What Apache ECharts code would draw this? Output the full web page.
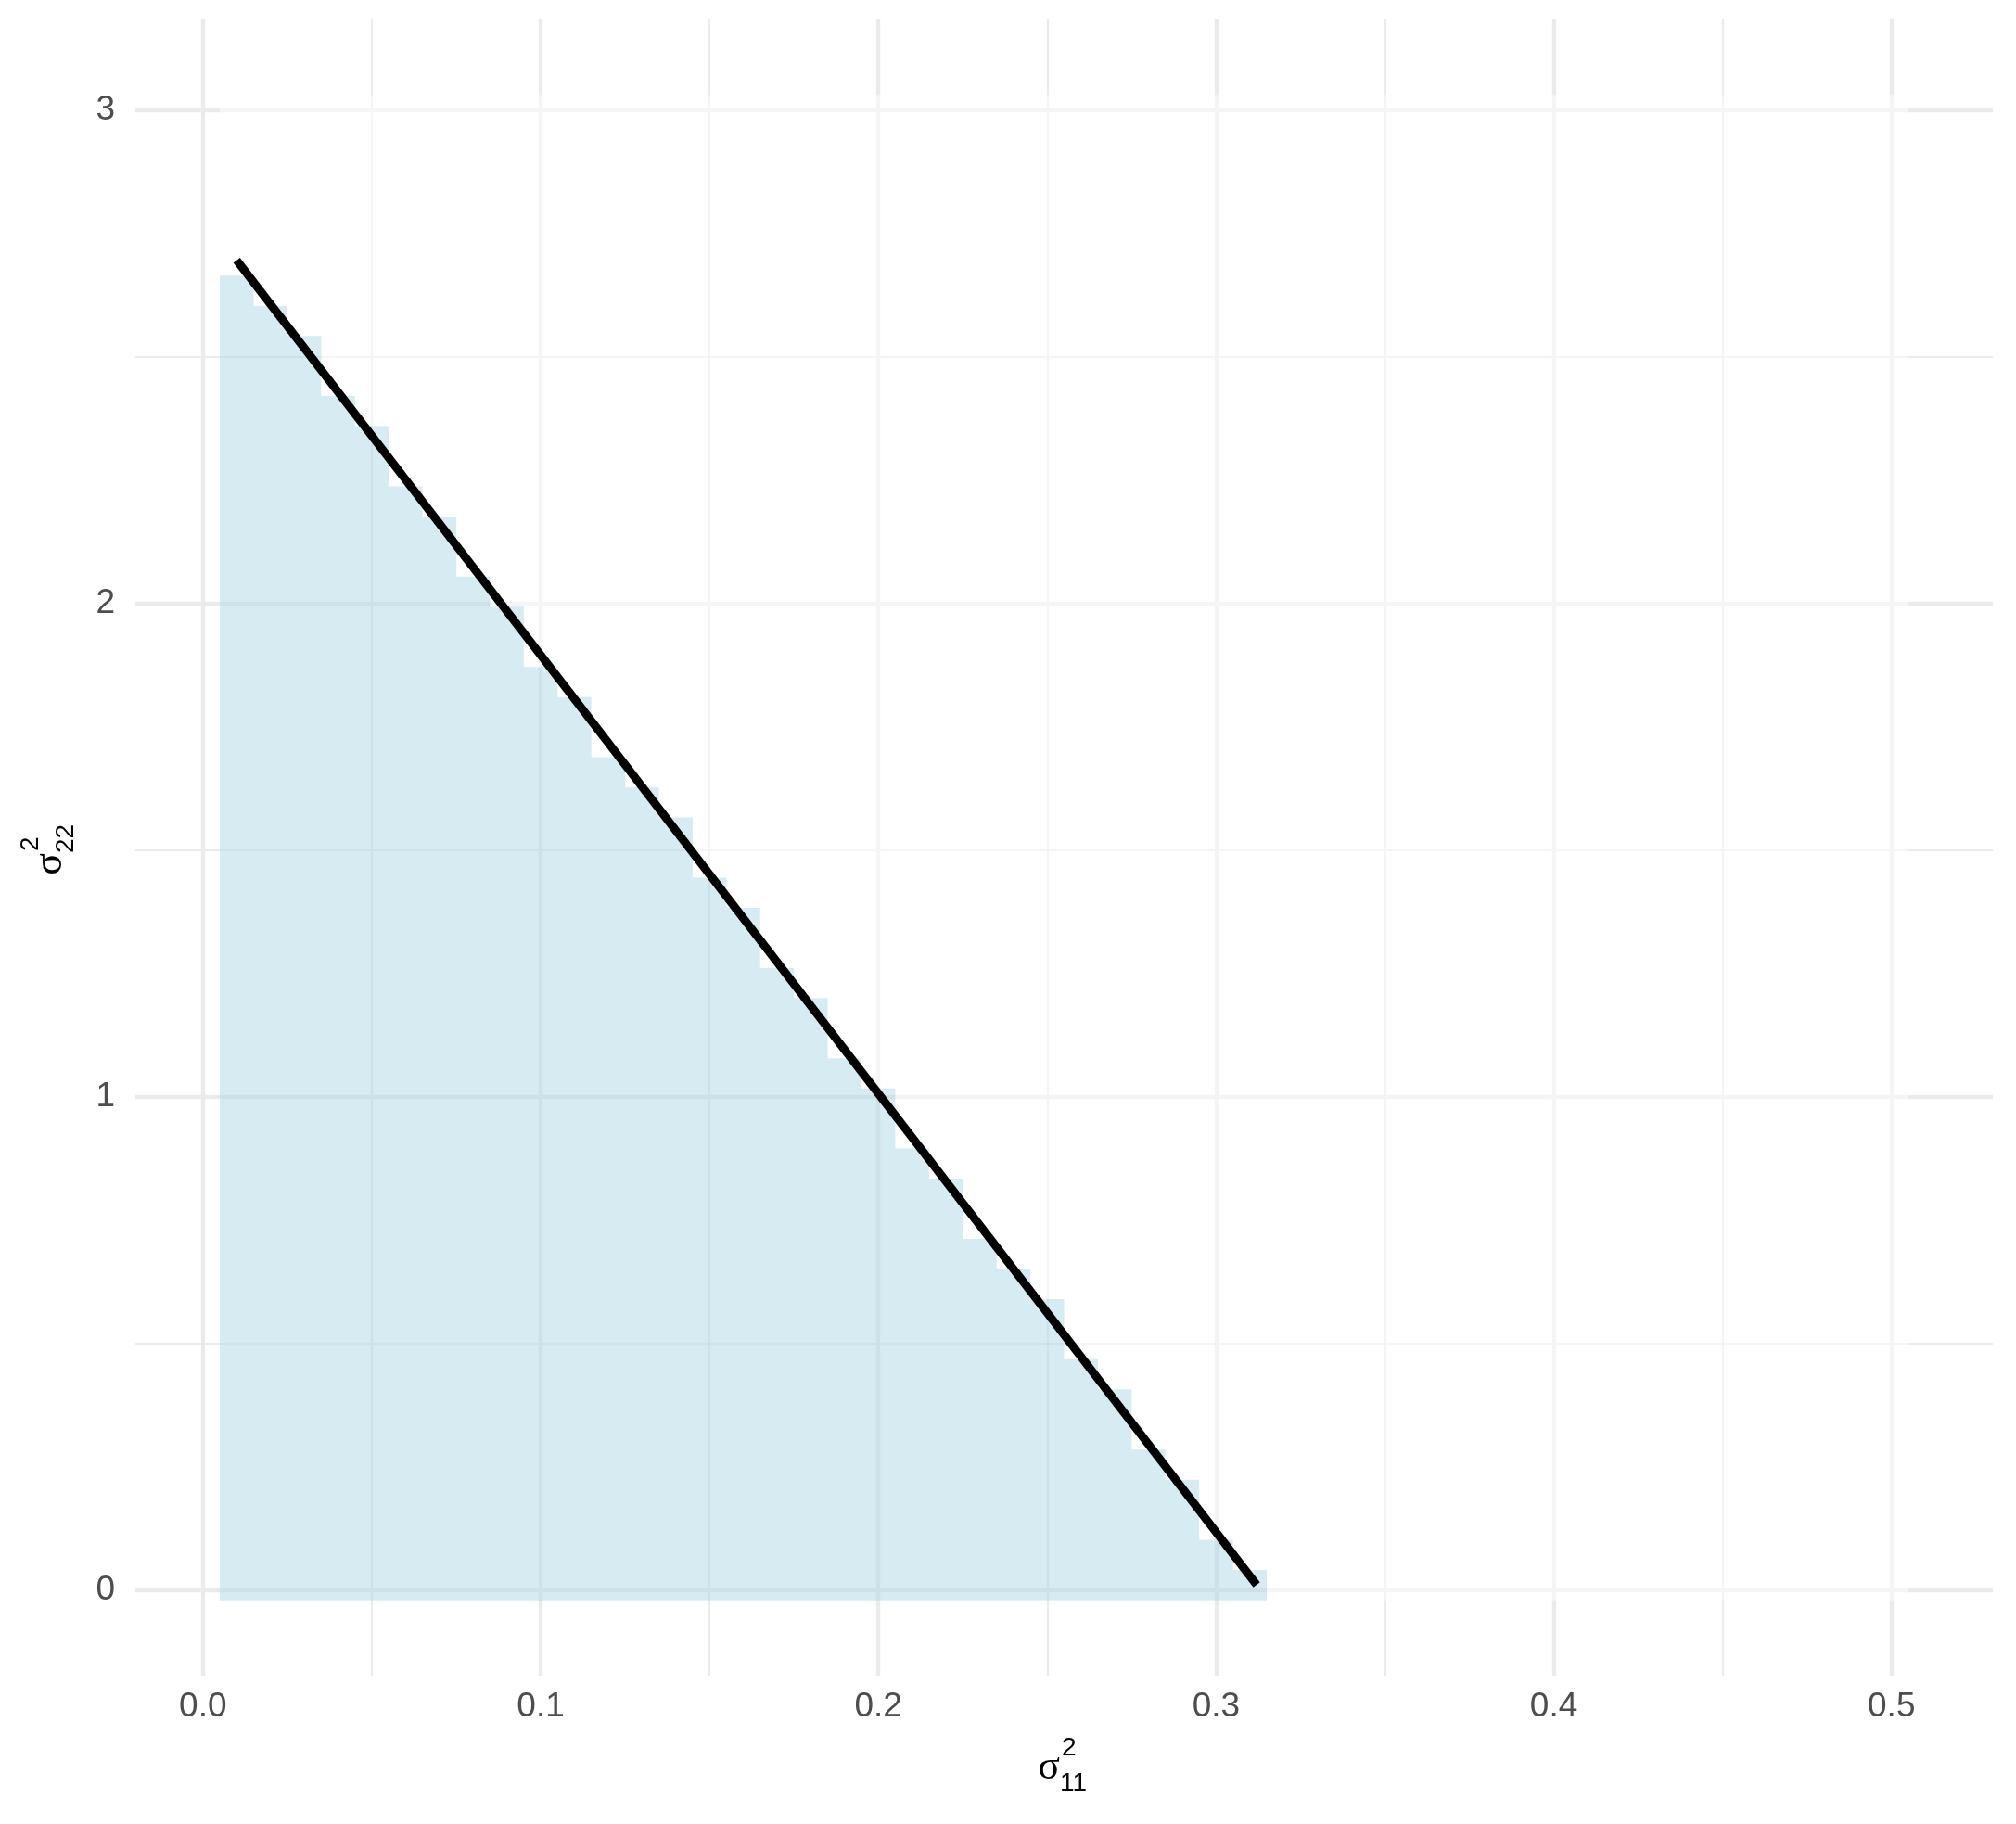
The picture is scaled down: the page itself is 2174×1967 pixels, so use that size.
<!DOCTYPE html>
<html>
<head>
<meta charset="utf-8">
<title>sigma11 vs sigma22</title>
<script src="https://cdn.jsdelivr.net/npm/echarts@6/dist/echarts.min.js"></script>
<style>
  html, body { margin: 0; padding: 0; background: #fff; }
  #chart { width: 2174px; height: 1967px; }
</style>
</head>
<body>
<div id="chart"></div>
<script>
// centre of each raster column (sigma11^2)
const colX = [0.01, 0.02, 0.03, 0.04, 0.05, 0.06, 0.07, 0.08, 0.09, 0.10,
              0.11, 0.12, 0.13, 0.14, 0.15, 0.16, 0.17, 0.18, 0.19, 0.20,
              0.21, 0.22, 0.23, 0.24, 0.25, 0.26, 0.27, 0.28, 0.29, 0.30, 0.31]
// upper edge of the filled part of each column (sigma22^2)
const colTop = [2.664, 2.603, 2.542, 2.420, 2.359, 2.237, 2.176, 2.054, 1.993, 1.871,
                1.810, 1.688, 1.627, 1.566, 1.444, 1.383, 1.261, 1.200, 1.078, 1.017,
                0.895, 0.834, 0.712, 0.651, 0.590, 0.468, 0.407, 0.285, 0.224, 0.102, 0.041]
// extent of the whole raster (tile half width, bottom, top, right edge)
const tileHalf = 0.005
const rasterBottom = -0.0205
const rasterTop = 3.0305
const rasterRight = 0.505

// boundary line
const lineX = [0.01, 0.312]
const lineY = [2.695, 0.011]

// ticks
const xTicks = [0, 0.1, 0.2, 0.3, 0.4, 0.5]
const xMinor = [0.05, 0.15, 0.25, 0.35, 0.45]
const yTicks = [0, 1, 2, 3]
const yMinor = [0.5, 1.5, 2.5]

const chart = echarts.init(document.getElementById('chart'), null, { renderer: 'canvas' })

function stairs() {
    const pts = []
    colX.forEach((x, i) => {
        pts.push([x - tileHalf, colTop[i]], [x + tileHalf, colTop[i]])
    })
    return pts
}

function renderRaster(params, api) {
    const s = stairs()
    const left = colX[0] - tileHalf
    const right = colX[colX.length - 1] + tileHalf
    const blue = [[left, rasterBottom]].concat(s, [[right, rasterBottom]])
    const white = [[left, rasterTop], [rasterRight, rasterTop], [rasterRight, rasterBottom], [right, rasterBottom]]
        .concat(s.slice().reverse())
    return {
        type: 'group',
        children: [
            {
                type: 'polygon',
                shape: { points: white.map(p => api.coord(p)) },
                style: { fill: 'rgba(255,255,255,0.5)' }
            },
            {
                type: 'polygon',
                shape: { points: blue.map(p => api.coord(p)) },
                style: { fill: 'rgba(173,216,230,0.5)' }
            }
        ]
    }
}

function gridLine(axis, v, major) {
    const o = {}
    o[axis] = v
    o.lineStyle = { color: '#EBEBEB', width: major ? 4.4 : 2.2, type: 'solid' }
    return o
}

function mathTitle(x, y, rotation, sub) {
    return {
        type: 'group',
        x: x,
        y: y,
        rotation: rotation,
        children: [
            { type: 'text', style: { text: 'σ', x: 0, y: 0, align: 'center', verticalAlign: 'middle',
                font: '44px "Liberation Serif"', fill: '#000' } },
            { type: 'text', style: { text: '2', x: 14, y: -21, align: 'left', verticalAlign: 'middle',
                font: '28px "Liberation Sans"', fill: '#000' } },
            { type: 'text', style: { text: sub, x: 12, y: 17, align: 'left', verticalAlign: 'middle',
                font: '28px "Liberation Sans"', fill: '#000' } }
        ]
    }
}

const labelStyle = {
    color: '#4D4D4D',
    fontSize: 37,
    fontFamily: 'Liberation Sans'
}

chart.setOption({
    animation: false,
    backgroundColor: '#fff',
    grid: { left: 146, right: 25, top: 21, bottom: 160 },
    xAxis: {
        type: 'value',
        min: -0.02,
        max: 0.53,
        splitLine: { show: false },
        axisLine: { show: false },
        axisTick: { show: false },
        axisLabel: Object.assign({
            customValues: xTicks,
            margin: 15,
            formatter: v => v.toFixed(1)
        }, labelStyle)
    },
    yAxis: {
        type: 'value',
        min: -0.1731,
        max: 3.1831,
        splitLine: { show: false },
        axisLine: { show: false },
        axisTick: { show: false },
        axisLabel: Object.assign({
            customValues: yTicks,
            margin: 22,
            padding: [5, 0, 0, 0],
            formatter: v => String(v)
        }, labelStyle)
    },
    graphic: [
        mathTitle(1131, 1906, 0, '11'),
        mathTitle(54, 932, Math.PI / 2, '22')
    ],
    series: [
        {
            name: 'grid',
            type: 'line',
            z: 1,
            data: [],
            markLine: {
                z: 1,
                silent: true,
                symbol: ['none', 'none'],
                label: { show: false },
                animation: false,
                data: xMinor.map(v => gridLine('xAxis', v, false))
                    .concat(yMinor.map(v => gridLine('yAxis', v, false)))
                    .concat(xTicks.map(v => gridLine('xAxis', v, true)))
                    .concat(yTicks.map(v => gridLine('yAxis', v, true)))
            }
        },
        {
            name: 'raster',
            type: 'custom',
            z: 3,
            silent: true,
            renderItem: renderRaster,
            data: [[0, 0]]
        },
        {
            name: 'boundary',
            type: 'line',
            z: 4,
            symbol: 'none',
            lineStyle: { color: '#000', width: 9, cap: 'butt' },
            data: lineX.map((x, i) => [x, lineY[i]])
        }
    ]
})
</script>
</body>
</html>
